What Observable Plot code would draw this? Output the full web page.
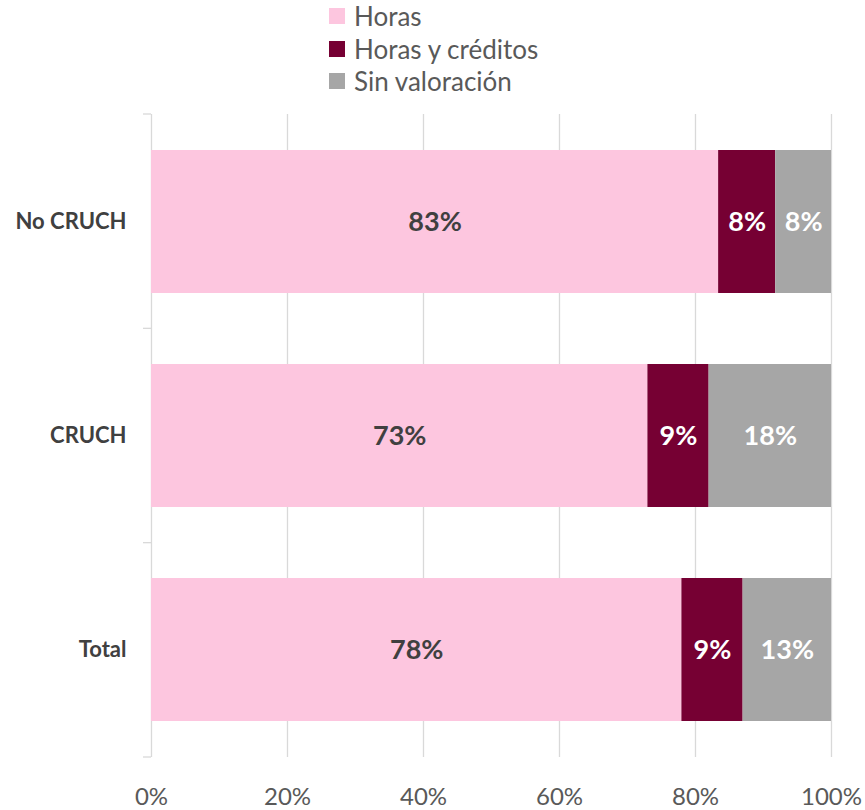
<!DOCTYPE html>
<html>
<head>
<meta charset="utf-8">
<script src="https://cdn.jsdelivr.net/npm/d3@7"></script>
<script src="https://cdn.jsdelivr.net/npm/@observablehq/plot@0.6"></script>
<style>
  html, body { margin: 0; padding: 0; background: #fff; }
  body { width: 865px; height: 810px; overflow: hidden; font-family: Lato, "Open Sans", sans-serif; }
  #legend { height: 105px; box-sizing: border-box; padding-left: 329px; padding-top: 0px; }
  .row { display: flex; align-items: center; height: 32.5px; font-size: 26px; color: #595959; }
  .sw { width: 16px; height: 16px; margin-right: 9px; flex: none; }
  svg { display: block; }
</style>
</head>
<body>
<div id="legend"></div>
<div id="chart"></div>
<script>
const categories = ["No CRUCH", "CRUCH", "Total"];
const seriesNames = ["Horas", "Horas y créditos", "Sin valoración"];
const horas = [83.4, 73, 78];
const horasCreditos = [8.4, 9, 9];
const sinValoracion = [8.2, 18, 13];
const xTicks = [0, 20, 40, 60, 80, 100];
const colors = ["#FDC6DF", "#760033", "#A6A6A6"];

const seriesValues = [horas, horasCreditos, sinValoracion];
const data = [];
seriesNames.forEach((s, si) => categories.forEach((c, ci) => data.push({cat: c, series: s, value: seriesValues[si][ci]})));

const legend = d3.select("#legend");
seriesNames.forEach((s, i) => {
  const r = legend.append("div").attr("class", "row");
  r.append("div").attr("class", "sw").style("background", colors[i]);
  r.append("span").text(s);
});

const gridColor = "#D9D9D9";
const fmt = d => Math.round(d) + "%";
const stackOpts = {x: "value", y: "cat", z: "series", order: seriesNames, text: d => fmt(d.value), fontSize: 27, fontWeight: "bold"};

const plot = Plot.plot({
  width: 865,
  height: 705,
  marginLeft: 151,
  marginRight: 34,
  marginTop: 9,
  marginBottom: 53,
  style: {fontFamily: "Lato, 'Open Sans', sans-serif", background: "white"},
  x: {domain: [0, 100], label: null},
  y: {domain: categories, paddingInner: 0.333, paddingOuter: 0.1665, align: 0.5, label: null},
  color: {domain: seriesNames, range: colors},
  marks: [
    Plot.ruleX(xTicks, {stroke: gridColor, strokeWidth: 1.3}),
    Plot.barX(data, Plot.stackX({x: "value", y: "cat", fill: "series", order: seriesNames})),
    Plot.text(data, Plot.filter(d => d.series === seriesNames[0], Plot.stackX({...stackOpts, fill: "#404040"}))),
    Plot.text(data, Plot.filter(d => d.series !== seriesNames[0], Plot.stackX({...stackOpts, fill: "white"}))),
    Plot.axisX({ticks: xTicks, tickFormat: d => d + "%", tickSize: 0, tickPadding: 30, fontSize: 24, fill: "#595959", label: null}),
    Plot.axisY({tickSize: 0, tickPadding: 25, fontSize: 22, fontWeight: "bold", fill: "#404040", label: null})
  ]
});

// category boundary ticks on left axis, derived from the band scale
const ys = plot.scale("y");
const [r0, r1] = ys.range;
const n = categories.length;
const x0 = plot.scale("x").apply(0);
const g = d3.select(plot).append("g").attr("stroke", gridColor).attr("stroke-width", 1.3);
for (let i = 0; i <= n; i++) {
  const yy = r0 + i * (r1 - r0) / n;
  g.append("line").attr("x1", x0 - 8).attr("x2", x0).attr("y1", yy).attr("y2", yy);
}
document.getElementById("chart").appendChild(plot);
</script>
</body>
</html>
